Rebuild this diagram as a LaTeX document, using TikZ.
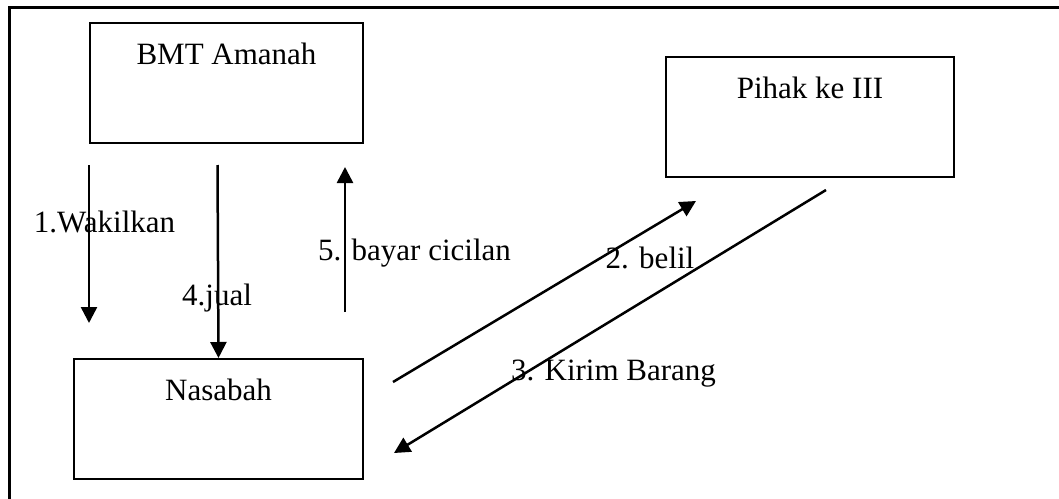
\documentclass[tikz,border=0pt]{standalone}
\usepackage{fontspec}
\setmainfont{Liberation Serif}
\usetikzlibrary{arrows.meta}

\begin{document}
\begin{tikzpicture}[x=1pt, y=-1pt,
        box/.style={draw, line width=2pt, inner sep=0pt, text height=41pt, text depth=79pt,
            font=\fontsize{31}{36}\selectfont, anchor=north west},
        txt/.style={font=\fontsize{31}{36}\selectfont, inner sep=0pt, anchor=base},
        arr/.style={line width=2.5pt, -{Triangle[length=16pt, width=16pt]}}]
        \useasboundingbox (0,0) rectangle (1059,498);
        \clip (0,0) rectangle (1059,498);
        % Frame
        \draw[line width=2.5pt] (9.5,7.5) rectangle (1090,530);

        % Boxes
        \node[box, minimum width=273pt] (bmt) at (89,22) {BMT Amanah};
        \node[box, minimum width=289pt] (nas) at (73,358) {Nasabah};
        \node[box, minimum width=288pt] (pihak) at (665,56) {Pihak ke III};

        % Free ends of the arrows
        \coordinate (w1) at (89,165);
        \coordinate (w2) at (89,323);
        \coordinate (j1) at (217.5,165);
        \coordinate (c1) at (345,312);
        \coordinate (c2) at (345,167);
        \coordinate (b1) at (393,382);
        \coordinate (b2) at (696,201);
        \coordinate (k1) at (826,190);
        \coordinate (k2) at (394,453);

        % Arrows with labels
        \draw[arr] (w1) -- (w2);
        \draw[arr] (j1) -- (nas.north);
        \draw[arr] (c1) -- (c2);
        \draw[arr] (b1) -- (b2);
        \draw[arr] (k1) -- (k2);
        \node[txt] (lwakil) at (104.5,232) {1.Wakilkan};
        \node[txt] (ljual) at (217,305) {4.jual};
        \node[txt] (lbayar) at (414.5,260) {5. bayar cicilan};
        \node[txt] (lbeli) at (650,268) {2. belil};
        \node[txt] (lkirim) at (613.5,380) {3. Kirim Barang};
    \end{tikzpicture}
\end{document}
